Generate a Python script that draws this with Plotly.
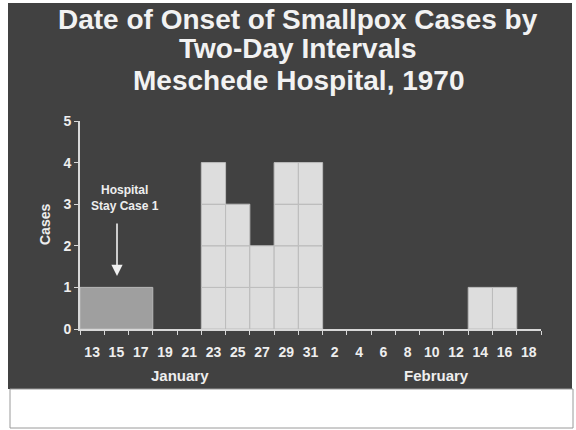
import plotly.graph_objects as go

# ---- data ----
interval_labels = ["13", "15", "17", "19", "21", "23", "25", "27", "29", "31",
                   "2", "4", "6", "8", "10", "12", "14", "16", "18"]
case_counts = [0, 0, 0, 0, 0, 4, 3, 2, 4, 4, 0, 0, 0, 0, 0, 0, 1, 1, 0]
hospital_stay_start = 0      # interval index (Jan 13)
hospital_stay_intervals = 3  # Jan 13-18
hospital_stay_cases = 1
month_labels = ["January", "February"]
month_positions = [3.62, 14.2]
y_ticks = [0, 1, 2, 3, 4, 5]
title_lines = ["Date of Onset of Smallpox Cases by", "Two-Day Intervals",
               "Meschede Hospital, 1970"]

# ---- geometry (page pixels; body margin removed below) ----
W, H = 576, 430
PLOT_L, PLOT_R, PLOT_T, PLOT_B = 80, 541, 121, 329
ML, MR, MT, MB = PLOT_L, W - PLOT_R, PLOT_T, H - PLOT_B
PW = PLOT_R - PLOT_L
PH = PLOT_B - PLOT_T


def px(x):
    return (x - PLOT_L) / PW


def py(y):
    return (PLOT_B - y) / PH


FONT = "Liberation Sans"
TXT = "#eeeeee"

fig = go.Figure()

# hospital stay bar (case 1)
fig.add_trace(go.Bar(
    x=[hospital_stay_start + (hospital_stay_intervals - 1) / 2],
    y=[hospital_stay_cases], width=[hospital_stay_intervals],
    marker=dict(color="#9f9f9f", line=dict(color="#b8b8b8", width=1)),
    showlegend=False, hoverinfo="skip"))

# one square per case
cx, cy, cb = [], [], []
for i, c in enumerate(case_counts):
    for k in range(c):
        cx.append(i)
        cy.append(1)
        cb.append(k)
fig.add_trace(go.Bar(
    x=cx, y=cy, base=cb, width=1,
    marker=dict(color="#dddddd", line=dict(color="#bcbcbc", width=1)),
    showlegend=False, hoverinfo="skip"))

shapes = [
    dict(type="rect", xref="paper", yref="paper", layer="below",
         x0=px(8), x1=px(572), y0=py(3), y1=py(389),
         fillcolor="#414141", line=dict(width=0)),
    dict(type="rect", xref="paper", yref="paper", layer="below",
         x0=px(10), x1=px(573), y0=py(389), y1=py(428),
         fillcolor="rgba(0,0,0,0)", line=dict(color="#9a9a9a", width=1)),
]

annotations = []
for line, yy in zip(title_lines, [19, 49, 80]):
    annotations.append(dict(
        text=line, xref="paper", yref="paper", x=px(298), y=py(yy),
        xanchor="center", yanchor="middle", showarrow=False,
        font=dict(family=FONT, size=28, color="#f2f2f2", weight="bold")))

for lab, pos in zip(month_labels, month_positions):
    annotations.append(dict(
        text=lab, xref="x", yref="paper", x=pos, y=py(375),
        xanchor="center", yanchor="middle", showarrow=False,
        font=dict(family=FONT, size=15, color=TXT, weight="bold")))

annotations.append(dict(
    text="Cases", xref="paper", yref="paper", x=px(45), y=0.5,
    xanchor="center", yanchor="middle", textangle=-90, showarrow=False,
    font=dict(family=FONT, size=14, color=TXT, weight="bold")))

annotations.append(dict(
    text="Hospital<br>Stay Case 1", xref="paper", yref="paper",
    x=px(125), y=py(198), xanchor="center", yanchor="middle",
    showarrow=False,
    font=dict(family=FONT, size=12, color=TXT, weight="bold")))

annotations.append(dict(
    text="", xref="paper", yref="paper", x=px(117), y=py(276),
    ax=0, ay=-54, axref="pixel", ayref="pixel",
    showarrow=True, arrowhead=2, arrowsize=1.4, arrowwidth=1.6,
    arrowcolor="#f0f0f0"))

fig.update_layout(
    width=W, height=H,
    margin=dict(l=ML, r=MR, t=MT, b=MB, pad=0),
    paper_bgcolor="white", plot_bgcolor="rgba(0,0,0,0)",
    barmode="overlay", bargap=0,
    shapes=shapes, annotations=annotations,
    xaxis=dict(
        range=[-0.5, len(interval_labels) - 0.5],
        tickmode="array", tickvals=list(range(len(interval_labels))),
        ticktext=interval_labels, ticks="outside", ticklen=9,
        tickcolor="rgba(0,0,0,0)",
        tickfont=dict(family=FONT, size=14, color=TXT, weight="bold"),
        showline=True, linecolor="#d8d8d8", linewidth=2,
        showgrid=False, zeroline=False, fixedrange=True,
        minor=dict(tickmode="linear", tick0=-0.5, dtick=1,
                   ticks="outside", ticklen=4, tickcolor="#d8d8d8",
                   tickwidth=1, showgrid=False)),
    yaxis=dict(
        range=[0, 5], tickmode="array", tickvals=y_ticks,
        ticks="outside", ticklen=4, tickcolor="#d8d8d8",
        tickfont=dict(family=FONT, size=14, color=TXT, weight="bold"),
        showline=True, linecolor="#d8d8d8", linewidth=2,
        showgrid=False, zeroline=False, fixedrange=True),
)

fig.write_html("out.html",
               config={"displayModeBar": False, "staticPlot": True},
               post_script="document.body.style.margin='0';"
                           "document.body.style.overflow='hidden';")
